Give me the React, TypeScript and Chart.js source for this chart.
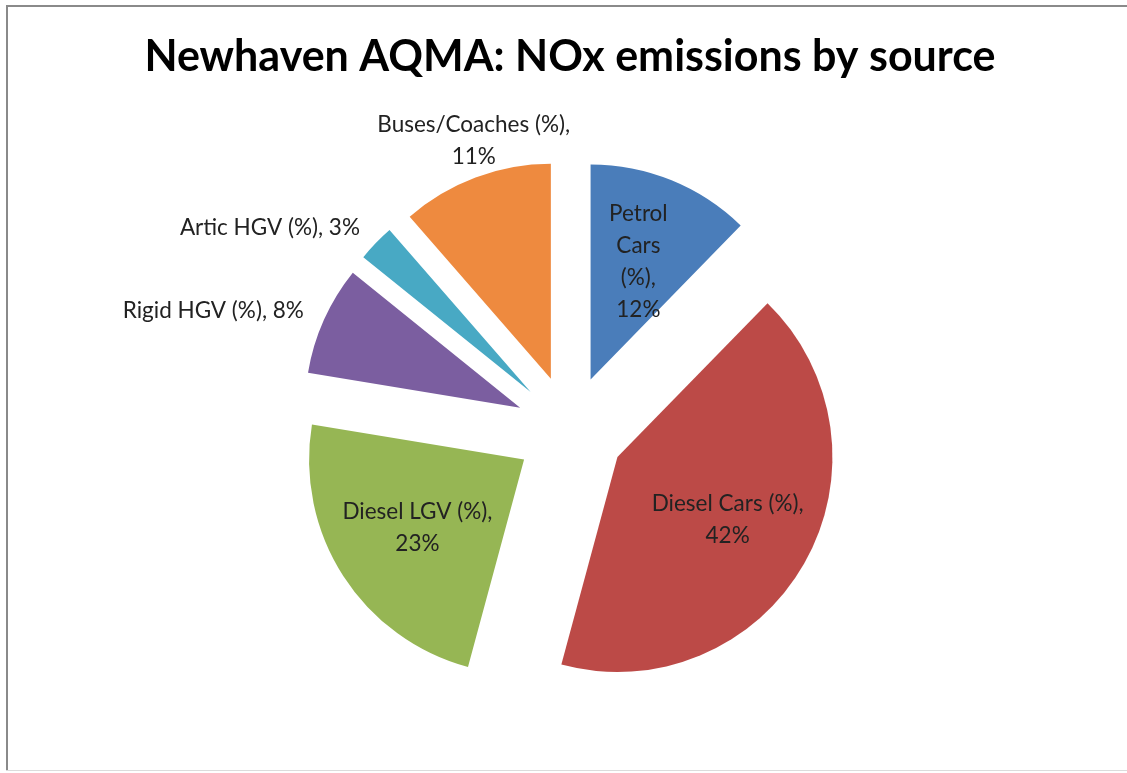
import { useEffect, useRef } from 'react';
import { Chart, registerables } from 'chart.js';

Chart.register(...registerables);

// NOx emission shares by vehicle source (percent of total)
const categories = [
  'Petrol Cars (%)',
  'Diesel Cars (%)',
  'Diesel LGV (%)',
  'Rigid HGV (%)',
  'Artic HGV (%)',
  'Buses/Coaches (%)',
];
const shares = [12.3, 41.9, 23.4, 8.2, 2.8, 11.4];
const sliceColors = ['#4A7DBA', '#BC4A47', '#96B654', '#7B5EA0', '#48A9C4', '#EE8A3F'];
const labelPlacement = ['inside', 'inside', 'inside', 'outside', 'outside', 'outside'];
const labelWrapWidth = [80, 170, 170, 400, 400, 210];

const TITLE = 'Newhaven AQMA: NOx emissions by source';
const FONT = 'Lato, "Open Sans", sans-serif';
const EXPLODE = 0.254; // slice pull-out as a fraction of the radius
const LABEL_SIZE = 22.5;
const LINE_HEIGHT = 32;

function wrapWords(ctx: CanvasRenderingContext2D, text: string, maxWidth: number): string[] {
  const words = text.split(' ');
  const lines: string[] = [];
  let current = '';
  for (const w of words) {
    const trial = current ? current + ' ' + w : w;
    if (current && ctx.measureText(trial).width > maxWidth) {
      lines.push(current);
      current = w;
    } else {
      current = trial;
    }
  }
  if (current) lines.push(current);
  return lines;
}

const framePlugin = {
  id: 'frame',
  beforeDraw(chart: any) {
    const { ctx, width, height } = chart;
    ctx.save();
    ctx.fillStyle = '#ffffff';
    ctx.fillRect(0, 0, width, height);
    ctx.fillStyle = '#8a8a8a';
    ctx.fillRect(6, 5, width - 6, 2);
    ctx.fillRect(6, 5, 2, height - 7);
    ctx.fillStyle = '#dcdcdc';
    ctx.fillRect(6, height - 3, width - 6, 1);
    ctx.restore();
  },
};

const explodePlugin = {
  id: 'explode',
  beforeDatasetDraw(chart: any, args: any) {
    const { ctx } = chart;
    args.meta.data.forEach((arc: any) => {
      const p = arc.getProps(['startAngle', 'endAngle', 'outerRadius'], true);
      const mid = (p.startAngle + p.endAngle) / 2;
      const shift = p.outerRadius * EXPLODE;
      ctx.save();
      ctx.translate(Math.cos(mid) * shift, Math.sin(mid) * shift);
      arc.draw(ctx);
      ctx.restore();
    });
    return false;
  },
  afterDraw(chart: any) {
    const { ctx } = chart;
    const meta = chart.getDatasetMeta(0);
    const total = shares.reduce((a, b) => a + b, 0);
    ctx.save();
    ctx.font = `${LABEL_SIZE}px ${FONT}`;
    ctx.fillStyle = '#222222';
    ctx.textBaseline = 'middle';
    meta.data.forEach((arc: any, i: number) => {
      const p = arc.getProps(['x', 'y', 'startAngle', 'endAngle', 'outerRadius'], true);
      const mid = (p.startAngle + p.endAngle) / 2;
      const R = p.outerRadius;
      const shift = R * EXPLODE;
      const cos = Math.cos(mid);
      const sin = Math.sin(mid);
      const pct = Math.round((shares[i] / total) * 100);
      const lines = wrapWords(ctx, `${categories[i]}, ${pct}%`, labelWrapWidth[i]);
      const blockH = lines.length * LINE_HEIGHT;
      let x: number;
      let top: number;
      if (labelPlacement[i] === 'inside') {
        const r = shift + R * 0.59;
        x = p.x + cos * r;
        top = p.y + sin * r - blockH / 2;
        ctx.textAlign = 'center';
      } else if (Math.abs(cos) > 0.5) {
        const r = shift + R + 22;
        x = p.x + cos * r;
        top = p.y + sin * r - blockH / 2;
        ctx.textAlign = cos < 0 ? 'right' : 'left';
      } else {
        const r = shift + R + 5;
        x = p.x + cos * r;
        const y = p.y + sin * r;
        top = sin < 0 ? y - blockH : y;
        ctx.textAlign = 'center';
      }
      lines.forEach((line, k) => {
        ctx.fillText(line, x, top + LINE_HEIGHT * (k + 0.5));
      });
    });
    ctx.restore();
  },
};

export default function App() {
  const canvasRef = useRef<HTMLCanvasElement | null>(null);

  useEffect(() => {
    const canvas = canvasRef.current;
    if (!canvas) return;
    const chart = new Chart(canvas, {
      type: 'pie',
      data: {
        labels: categories,
        datasets: [
          {
            data: shares,
            backgroundColor: sliceColors,
            borderWidth: 0,
            radius: 215,
          },
        ],
      },
      options: {
        responsive: false,
        animation: false,
        devicePixelRatio: 1,
        layout: { padding: { left: 13, right: 0, top: 0, bottom: 13 } },
        plugins: {
          legend: { display: false },
          tooltip: { enabled: false },
          title: {
            display: true,
            text: TITLE,
            color: '#000000',
            font: { family: FONT, size: 43, weight: 'bold', lineHeight: 1.2 },
            padding: { top: 31.2, bottom: 17.2 },
          },
        },
      },
      plugins: [framePlugin, explodePlugin],
    });
    return () => chart.destroy();
  }, []);

  return (
    <div style={{ position: 'fixed', left: 0, top: 0, width: 1127, height: 773, background: '#fff' }}>
      <canvas ref={canvasRef} width={1127} height={773} style={{ display: 'block' }} />
    </div>
  );
}
